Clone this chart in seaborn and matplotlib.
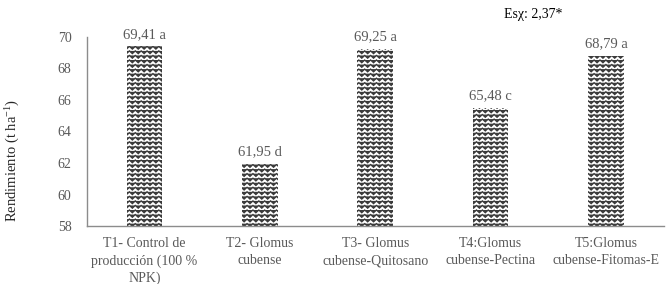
import numpy as np
import pandas as pd
import matplotlib
matplotlib.use("Agg")
import matplotlib.pyplot as plt
from matplotlib import hatch as mhatch
from matplotlib.path import Path
import seaborn as sns

# ---- data ----
categories = ["T1- Control de\nproducción (100 %\nNPK)", "T2- Glomus\ncubense",
              "T3- Glomus\ncubense-Quitosano", "T4:Glomus\ncubense-Pectina",
              "T5:Glomus\ncubense-Fitomas-E"]
values = [69.41, 61.95, 69.25, 65.48, 68.79]
letters = ["a", "d", "a", "c", "a"]
y_ticks = [58, 60, 62, 64, 66, 68, 70]

# ---- custom zigzag hatch replacing '-' ----
class ZigzagHatch(mhatch.HatchPatternBase):
    def __init__(self, hatch, density):
        n = hatch.count('-')
        self.rows = 22 if n else 0
        self.waves = 17
        self.num_vertices = self.rows * (2 * self.waves + 1)

    def set_vertices_and_codes(self, vertices, codes):
        npts = 2 * self.waves + 1
        amp = 0.3 / self.rows
        xs = np.linspace(0, 1, npts)
        k = 0
        for i in range(self.rows):
            y0 = (i + 0.5) / self.rows
            ys = y0 + amp * np.where(np.arange(npts) % 2 == 0, 1, -1)
            vertices[k:k + npts, 0] = xs
            vertices[k:k + npts, 1] = ys
            codes[k] = Path.MOVETO
            codes[k + 1:k + npts] = Path.LINETO
            k += npts

mhatch._hatch_types = [ZigzagHatch if t is mhatch.HorizontalHatch else t
                       for t in mhatch._hatch_types]

sns.set_style("white")
plt.rcParams['font.family'] = ['Liberation Serif', 'DejaVu Serif']
plt.rcParams['mathtext.fontset'] = 'custom'
plt.rcParams['mathtext.rm'] = 'Liberation Serif'
plt.rcParams['mathtext.it'] = 'Liberation Serif:italic'
plt.rcParams['mathtext.bf'] = 'Liberation Serif:bold'
plt.rcParams['hatch.linewidth'] = 0.95

df = pd.DataFrame({"cat": categories, "val": values})

fig = plt.figure(figsize=(6.67, 2.84), dpi=100)
ax = fig.add_axes([0.130, 0.204, 0.865, 0.666])
sns.barplot(data=df, x="cat", y="val", ax=ax, width=0.31,
            color="white", saturation=1)
for p in ax.patches:
    p.set_hatch('-')
    p.set_edgecolor('#3a3a3a')
    p.set_linewidth(0)

ax.set_ylim(58, 70)
ax.set_yticks(y_ticks)
ax.set_xlim(-0.5, 4.5)
gray = '#595959'
ax.tick_params(axis='both', length=0, colors=gray, labelsize=10)
ax.tick_params(axis='y', pad=11)
ax.tick_params(axis='x', pad=8)
for lab in ax.get_xticklabels():
    lab.set_linespacing(1.4)
for s in ['top', 'right']:
    ax.spines[s].set_visible(False)
for s in ['left', 'bottom']:
    ax.spines[s].set_color('#8c8c8c')
    ax.spines[s].set_linewidth(1.0)
ax.set_xlabel("")
ax.set_ylabel(r"Rendimiento (t ha$^{\mathrm{-1}}$)", fontsize=10.5,
              color='#262626')
ax.yaxis.set_label_coords(-0.113, 0.345)

for i, (v, l) in enumerate(zip(values, letters)):
    ax.text(i, v + 0.35, f"{v:.2f}".replace('.', ',') + " " + l,
            ha='center', va='bottom', fontsize=10.5, color=gray)

fig.text(0.755, 0.95, "Esχ: 2,37*", ha='left', va='center', fontsize=10,
         color='black')

fig.savefig("out.png", dpi=100)
